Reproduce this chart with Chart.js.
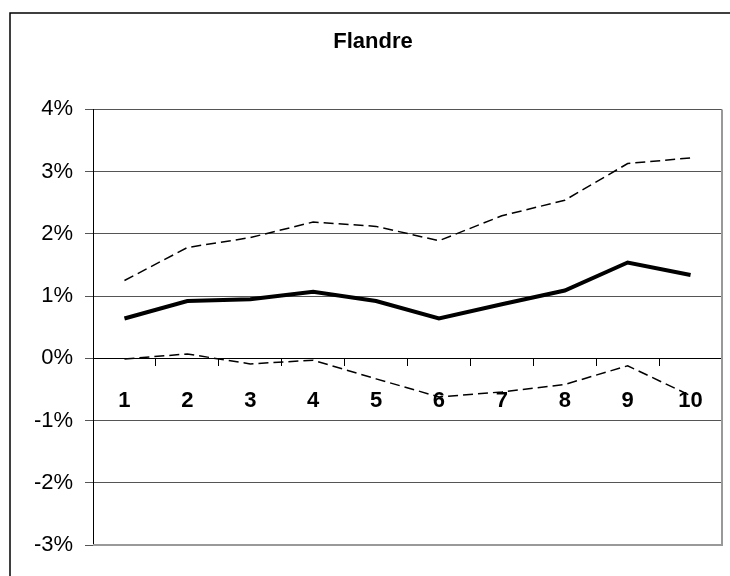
<!DOCTYPE html>
<html>
<head>
<meta charset="utf-8">
<script src="https://cdn.jsdelivr.net/npm/chart.js@4"></script>
<style>
  body { margin: 0; background: #fff; }
  #wrap { width: 730px; height: 576px; }
</style>
</head>
<body>
<div id="wrap"><canvas id="flandre-chart"></canvas></div>
<script>
var xValues = ["1", "2", "3", "4", "5", "6", "7", "8", "9", "10"];
var MidValues = [0.64, 0.92, 0.95, 1.07, 0.92, 0.64, 0.87, 1.09, 1.54, 1.34];
var HighValues = [1.25, 1.78, 1.94, 2.19, 2.12, 1.89, 2.29, 2.54, 3.13, 3.22];
var LowValues = [-0.01, 0.07, -0.09, -0.03, -0.33, -0.62, -0.54, -0.42, -0.12, -0.6];
var LineColor = "#000000";
var GridColor = "#555555";

// frame around plot area + outer chart border
var framePlugin = {
  id: "frame",
  afterDraw: function (chart) {
    var ctx = chart.ctx, a = chart.chartArea;
    ctx.save();
    ctx.strokeStyle = "#999999";
    ctx.lineWidth = 2;
    ctx.beginPath();
    ctx.moveTo(a.right, a.top);
    ctx.lineTo(a.right, a.bottom);
    ctx.lineTo(a.left, a.bottom);
    ctx.stroke();
    ctx.strokeStyle = "#000";
    ctx.lineWidth = 1.5;
    ctx.beginPath();
    ctx.moveTo(10, 576);
    ctx.lineTo(10, 13);
    ctx.lineTo(730, 13);
    ctx.stroke();
    ctx.restore();
  }
};

new Chart("flandre-chart", {
  type: "line",
  data: {
    labels: xValues,
    datasets: [
      {
        label: "High",
        data: HighValues,
        borderColor: LineColor,
        borderWidth: 1.5,
        borderDash: [10, 5],
        pointRadius: 0,
        tension: 0,
      },
      {
        label: "Mid",
        data: MidValues,
        borderColor: LineColor,
        borderWidth: 4,
        pointRadius: 0,
        tension: 0,
      },
      {
        label: "Low",
        data: LowValues,
        borderColor: LineColor,
        borderWidth: 1.5,
        borderDash: [10, 5],
        pointRadius: 0,
        tension: 0,
      },
    ],
  },
  options: {
    responsive: true,
    maintainAspectRatio: false,
    animation: false,
    layout: { padding: { top: 0, left: 24, right: 8, bottom: 31 } },
    plugins: {
      legend: { display: false },
      tooltip: { enabled: false },
      title: {
        display: true,
        text: "Flandre",
        color: "#000",
        font: { family: "Liberation Sans", size: 22, weight: "bold" },
        padding: { top: 29, bottom: 54 },
      },
    },
    scales: {
      x: {
        position: { y: 0 },
        offset: true,
        grid: {
          offset: true,
          drawOnChartArea: false,
          drawTicks: true,
          tickLength: 7,
          color: "#000",
        },
        border: { display: true, color: "#000" },
        ticks: {
          color: "#000",
          padding: 22,
          maxRotation: 0,
          font: { family: "Liberation Sans", size: 22, weight: "bold" },
        },
      },
      y: {
        min: -3,
        max: 4,
        afterFit: function (s) { s.width = 69; },
        grid: { color: GridColor, tickLength: 8 },
        border: { display: true, color: "#000" },
        ticks: {
          stepSize: 1,
          color: "#000",
          padding: 12,
          font: { family: "Liberation Sans", size: 22 },
          callback: function (v) { return v + "%"; },
        },
      },
    },
  },
  plugins: [framePlugin],
});
</script>
</body>
</html>
